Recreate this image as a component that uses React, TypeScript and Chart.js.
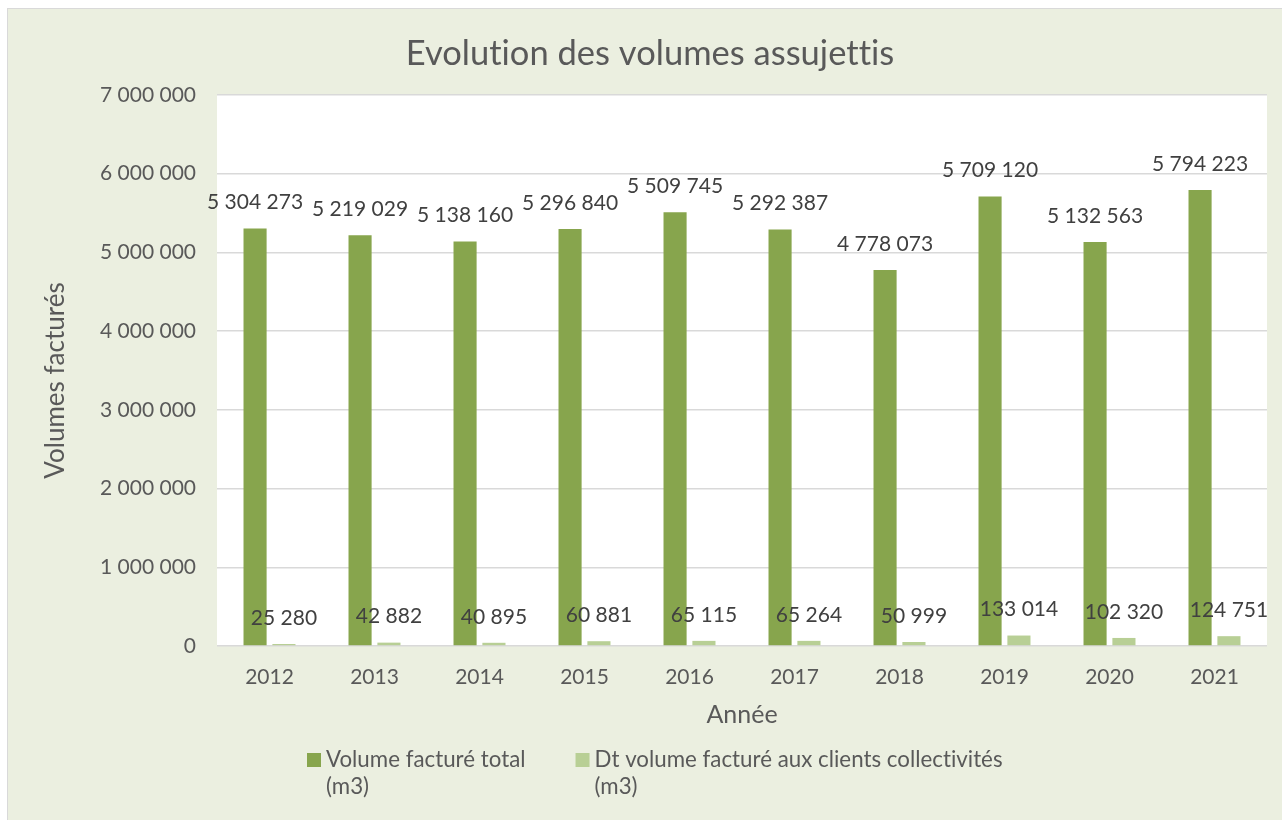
import React, { useEffect, useRef } from "react";
import { Chart, registerables } from "chart.js";

Chart.register(...registerables);

const TITLE = "Evolution des volumes assujettis";
const Y_TITLE = "Volumes facturés";
const X_TITLE = "Année";
const YEARS = ["2012", "2013", "2014", "2015", "2016", "2017", "2018", "2019", "2020", "2021"];
const TOTAL_LABEL = ["Volume facturé total", "(m3)"];
const COLLECT_LABEL = ["Dt volume facturé aux clients collectivités", "(m3)"];
const TOTAL = [5304273, 5219029, 5138160, 5296840, 5509745, 5292387, 4778073, 5709120, 5132563, 5794223];
const COLLECT = [25280, 42882, 40895, 60881, 65115, 65264, 50999, 133014, 102320, 124751];
const Y_MAX = 7000000;
const Y_STEP = 1000000;

const DARK = "#87A54D";
const LIGHT = "#B8CF95";
const TEXT = "#595959";
const LABEL_TEXT = "#404040";
const FONT = "Lato";

const fmt = (v: number) => String(Math.round(v)).replace(/\B(?=(\d{3})+(?!\d))/g, " ");

const noLig = (ctx: any) => {
  try {
    ctx.textRendering = "optimizeSpeed";
    ctx.letterSpacing = "0.01px";
  } catch (e) {}
};

const plotBg = {
  id: "plotBg",
  beforeDraw(chart: any) {
    const { ctx, chartArea } = chart;
    ctx.save();
    ctx.fillStyle = "#FFFFFF";
    ctx.fillRect(chartArea.left, chartArea.top, chartArea.right - chartArea.left, chartArea.bottom - chartArea.top);
    ctx.restore();
  },
};

const dataLabels = {
  id: "dataLabels",
  afterDatasetsDraw(chart: any) {
    const { ctx } = chart;
    ctx.save();
    ctx.font = `21px ${FONT}`;
    ctx.fillStyle = LABEL_TEXT;
    ctx.textAlign = "center";
    ctx.textBaseline = "middle";
    chart.data.datasets.forEach((ds: any, i: number) => {
      const meta = chart.getDatasetMeta(i);
      meta.data.forEach((bar: any, j: number) => {
        ctx.fillText(fmt(ds.data[j]), bar.x, bar.y - 26);
      });
    });
    ctx.restore();
  },
};

const titleAndLegend = {
  id: "titleAndLegend",
  afterDraw(chart: any) {
    const { ctx, chartArea } = chart;
    ctx.save();
    noLig(ctx);
    // title
    ctx.font = `34.5px ${FONT}`;
    ctx.fillStyle = TEXT;
    ctx.textAlign = "center";
    ctx.textBaseline = "alphabetic";
    ctx.fillText(TITLE, 650, 65);
    // y axis title
    ctx.save();
    ctx.translate(56, (chartArea.top + chartArea.bottom) / 2 + 10);
    ctx.rotate(-Math.PI / 2);
    ctx.font = `26px ${FONT}`;
    ctx.textBaseline = "middle";
    ctx.fillText(Y_TITLE, 0, 0);
    ctx.restore();
    // legend
    ctx.font = `22.3px ${FONT}`;
    ctx.textAlign = "left";
    let x = 307;
    chart.data.datasets.forEach((ds: any) => {
      ctx.fillStyle = ds.backgroundColor;
      ctx.fillRect(x, 753, 14, 14);
      ctx.fillStyle = TEXT;
      const lines: string[] = ds.legendLines;
      let maxW = 0;
      lines.forEach((ln, k) => {
        ctx.fillText(ln, x + 19, 767 + k * 27);
        maxW = Math.max(maxW, ctx.measureText(ln).width);
      });
      x = x + 19 + maxW + 50;
    });
    ctx.restore();
  },
};

export default function App() {
  const ref = useRef<HTMLCanvasElement | null>(null);
  useEffect(() => {
    if (!ref.current) return;
    const chart = new Chart(ref.current, {
      type: "bar",
      data: {
        labels: YEARS,
        datasets: [
          {
            label: TOTAL_LABEL.join(" "),
            legendLines: TOTAL_LABEL,
            data: TOTAL,
            backgroundColor: DARK,
            categoryPercentage: 0.55,
            barPercentage: 0.8,
          } as any,
          {
            label: COLLECT_LABEL.join(" "),
            legendLines: COLLECT_LABEL,
            data: COLLECT,
            backgroundColor: LIGHT,
            categoryPercentage: 0.55,
            barPercentage: 0.8,
          } as any,
        ],
      },
      options: {
        responsive: false,
        animation: false,
        devicePixelRatio: 1,
        layout: { padding: { top: 95, right: 15, bottom: 84, left: 0 } },
        plugins: {
          legend: { display: false },
          title: { display: false },
          tooltip: { enabled: false },
        },
        scales: {
          x: {
            grid: { display: false },
            border: { display: false },
            ticks: { color: TEXT, font: { family: FONT, size: 21 }, padding: 11 },
            title: {
              display: true,
              text: X_TITLE,
              color: TEXT,
              font: { family: FONT, size: 25 },
              padding: { top: 0, bottom: 6 },
            },
            afterFit(scale: any) {
              scale.height = 90;
            },
          },
          y: {
            min: 0,
            max: Y_MAX,
            border: { display: false },
            grid: { color: "#D9D9D9", lineWidth: 1.5, drawTicks: false },
            ticks: {
              stepSize: Y_STEP,
              color: TEXT,
              font: { family: FONT, size: 21 },
              padding: 21,
              callback: (v: any) => fmt(Number(v)),
            },
            title: { display: false },
            afterFit(scale: any) {
              scale.width = 217;
            },
          },
        },
      } as any,
      plugins: [plotBg, dataLabels, titleAndLegend],
    });
    return () => chart.destroy();
  }, []);

  return (
    <div style={{ position: "fixed", left: 0, top: 0, width: 1282, height: 820, overflow: "hidden" }}>
      <div
        style={{
          position: "absolute",
          left: 7,
          top: 8,
          width: 1300,
          height: 840,
          background: "#EBEFE0",
          border: "1px solid #D9D9D9",
        }}
      />
      <canvas ref={ref} width={1282} height={820} style={{ position: "absolute", left: 0, top: 0 }} />
    </div>
  );
}
